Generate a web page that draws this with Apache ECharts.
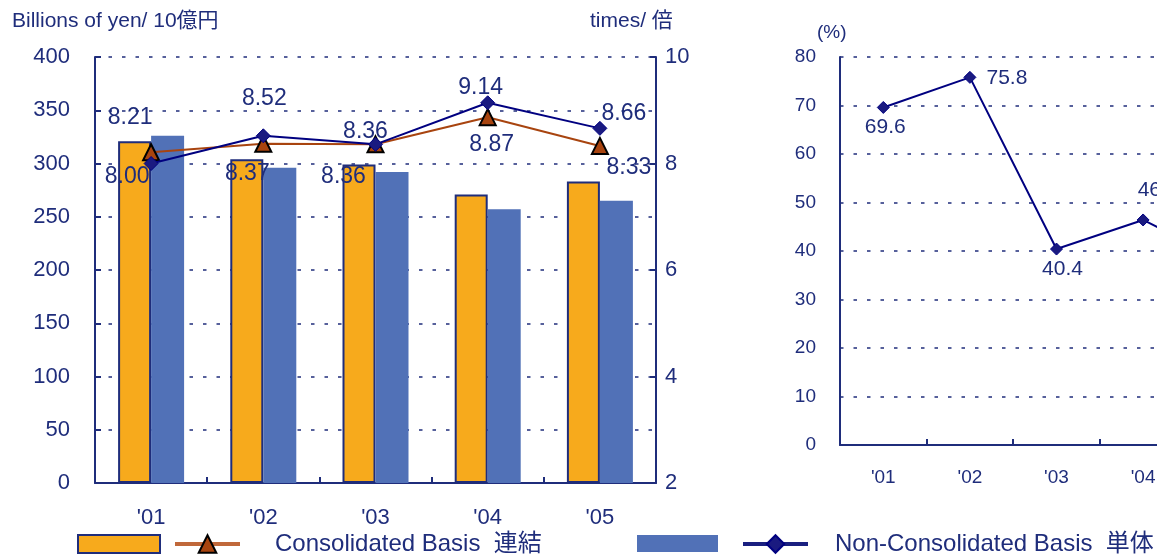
<!DOCTYPE html>
<html>
<head>
<meta charset="utf-8">
<script src="https://cdn.jsdelivr.net/npm/echarts@6/dist/echarts.min.js"></script>
<style>
html,body{margin:0;padding:0;background:#fff;}
#chart{width:1157px;height:555px;}
</style>
</head>
<body>
<div id="chart"></div>
<script>
const categories = ["'01", "'02", "'03", "'04", "'05"];
const consSales = [321, 304, 299, 271, 283];
const nonConsSales = [326, 296, 292, 257, 265];
const consRatio = [8.21, 8.37, 8.36, 8.87, 8.33];
const nonConsRatio = [8.00, 8.52, 8.36, 9.14, 8.66];
const payoutRatio = [69.6, 75.8, 40.4, 46.4, 37.5];

const leftTitle = 'Billions of yen/ 10億円';
const rightTitle = 'times/ 倍';
const pctTitle = '(%)';
const consName = 'Consolidated Basis  連結';
const nonConsName = 'Non-Consolidated Basis  単体';

// label offsets (style only)
const consLabelOffset = [[-21,-35],[-16,30],[-32,32],[4,27],[29,22]];
const nonConsLabelOffset = [[-24,13],[1,-37],[-10,-13],[-7,-15],[24,-15]];
const payoutLabelOffset = [[2,20],[37,1],[6,20],[15,-30],[0,22]];

const NAVY = '#1F2D7B';
const FONT = 'Liberation Sans, Arial, Noto Sans CJK JP, sans-serif';
const dashed = {show:true, lineStyle:{color:NAVY, width:1.5, type:[3.5,10]}};

function withLabels(vals, offs){
  return vals.map((v,i)=>({value:v, label:{offset:offs[i]}}));
}

const chart = echarts.init(document.getElementById('chart'), null, {renderer:'canvas'});
chart.setOption({
  animation:false,
  textStyle:{fontFamily:FONT, color:NAVY},
  title:[
    {text:leftTitle, left:12, top:11, padding:0, textStyle:{fontSize:21, fontWeight:'normal', color:NAVY, fontFamily:FONT}},
    {text:rightTitle, left:590, top:11, padding:0, textStyle:{fontSize:21, fontWeight:'normal', color:NAVY, fontFamily:FONT}},
    {text:pctTitle, left:817, top:23, padding:0, textStyle:{fontSize:19, fontWeight:'normal', color:NAVY, fontFamily:FONT}}
  ],
  legend:[
    {data:[{name:'cons-bar', icon:'rect'}], left:77, top:534, padding:0, itemWidth:82, itemHeight:18, formatter:()=> '', selectedMode:false},
    {data:[consName], left:173, top:532, padding:0, itemWidth:65, itemHeight:22, selectedMode:false,
     lineStyle:{width:4, color:'#C0683A'},
     formatter:n=>'{t|'+n+'}', textStyle:{rich:{t:{fontSize:24, color:NAVY, fontFamily:FONT, padding:[0,0,0,30]}}}},
    {data:[{name:'noncons-bar', icon:'rect'}], left:637, top:535, padding:0, itemWidth:81, itemHeight:17, formatter:()=> '', selectedMode:false},
    {data:[nonConsName], left:741, top:532, padding:0, itemWidth:65, itemHeight:22, selectedMode:false,
     lineStyle:{width:4, color:'#1A2080'},
     formatter:n=>'{t|'+n+'}', textStyle:{rich:{t:{fontSize:24, color:NAVY, fontFamily:FONT, padding:[0,0,0,22]}}}}
  ],
  grid:[
    {left:95, right:501, top:57, bottom:72, containLabel:false, outerBoundsMode:'none'},
    {left:840, width:433, top:57, bottom:110, containLabel:false, outerBoundsMode:'none'}
  ],
  xAxis:[
    {type:'category', gridIndex:0, data:categories, boundaryGap:true,
     axisLine:{lineStyle:{color:NAVY, width:2}},
     axisTick:{show:true, inside:true, length:6, lineStyle:{color:NAVY, width:2}},
     axisLabel:{color:NAVY, fontSize:22, margin:24, fontFamily:FONT}},
    {type:'category', gridIndex:1, data:categories, boundaryGap:true,
     axisLine:{lineStyle:{color:NAVY, width:2}},
     axisTick:{show:true, inside:true, length:6, lineStyle:{color:NAVY, width:2}},
     axisLabel:{color:NAVY, fontSize:19, margin:23, fontFamily:FONT}}
  ],
  yAxis:[
    {type:'value', gridIndex:0, min:0, max:400, interval:50,
     axisLine:{show:true, lineStyle:{color:NAVY, width:2}},
     axisTick:{show:true, inside:true, length:6, lineStyle:{color:NAVY, width:2}},
     axisLabel:{color:NAVY, fontSize:22, margin:25, fontFamily:FONT},
     splitLine:dashed},
    {type:'value', gridIndex:0, min:2, max:10, interval:2, position:'right',
     axisLine:{show:true, lineStyle:{color:NAVY, width:2}},
     axisTick:{show:true, inside:true, length:6, lineStyle:{color:NAVY, width:2}},
     axisLabel:{color:NAVY, fontSize:22, margin:9, fontFamily:FONT},
     splitLine:{show:false}},
    {type:'value', gridIndex:1, min:0, max:80, interval:10,
     axisLine:{show:true, lineStyle:{color:NAVY, width:2}},
     axisTick:{show:false},
     axisLabel:{color:NAVY, fontSize:19, margin:24, fontFamily:FONT},
     splitLine:dashed}
  ],
  series:[
    {name:'cons-bar', type:'bar', xAxisIndex:0, yAxisIndex:0, data:consSales,
     barWidth:33, barGap:'0%',
     itemStyle:{color:'#F7AA1C', borderColor:NAVY, borderWidth:2}},
    {name:'noncons-bar', type:'bar', xAxisIndex:0, yAxisIndex:0, data:nonConsSales,
     barWidth:33, barGap:'0%',
     itemStyle:{color:'#5171B7'}},
    {name:consName, type:'line', xAxisIndex:0, yAxisIndex:1, data:withLabels(consRatio, consLabelOffset),
     symbol:'triangle', symbolSize:16,
     lineStyle:{color:'#A8440F', width:2},
     itemStyle:{color:'#A8440F', borderColor:'#000', borderWidth:2},
     label:{show:true, position:'inside', fontSize:23, color:NAVY, fontFamily:FONT, formatter:p=>p.value.toFixed(2)},
     z:5},
    {name:nonConsName, type:'line', xAxisIndex:0, yAxisIndex:1, data:withLabels(nonConsRatio, nonConsLabelOffset),
     symbol:'diamond', symbolSize:14,
     lineStyle:{color:'#000080', width:2},
     itemStyle:{color:'#1A1A80', borderColor:'#000080', borderWidth:1},
     label:{show:true, position:'inside', fontSize:23, color:NAVY, fontFamily:FONT, formatter:p=>p.value.toFixed(2)},
     z:6},
    {name:'payout', type:'line', xAxisIndex:1, yAxisIndex:2, data:withLabels(payoutRatio, payoutLabelOffset),
     symbol:'diamond', symbolSize:12,
     lineStyle:{color:'#000080', width:2},
     itemStyle:{color:'#1A1A80', borderColor:'#000080', borderWidth:1},
     label:{show:true, position:'inside', fontSize:21, color:NAVY, fontFamily:FONT, formatter:p=>p.value.toFixed(1)}}
  ]
});
</script>
</body>
</html>
